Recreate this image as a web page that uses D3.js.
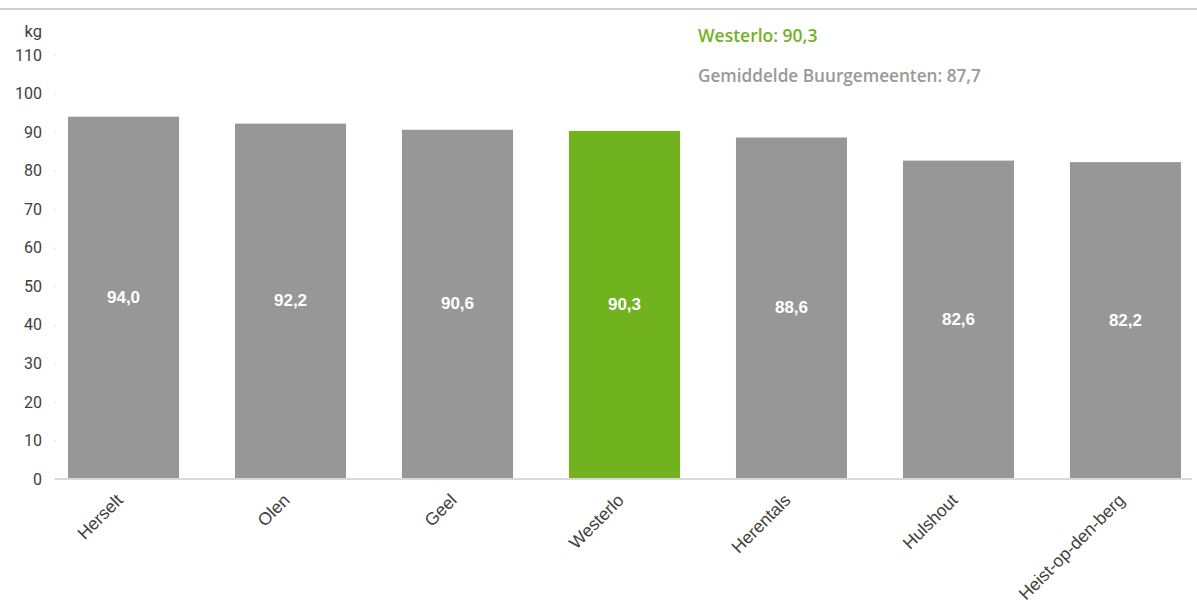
<!DOCTYPE html>
<html><head><meta charset="utf-8">
<script src="https://cdn.jsdelivr.net/npm/d3@7"></script>
<style>body{margin:0;background:#fff;}svg{display:block;}</style>
</head><body>
<script>
const categories = ["Herselt","Olen","Geel","Westerlo","Herentals","Hulshout","Heist-op-den-berg"];
const values = [94.0, 92.2, 90.6, 90.3, 88.6, 82.6, 82.2];
const highlight = "Westerlo";
const yTicks = [0,10,20,30,40,50,60,70,80,90,100,110];
const unitLabel = "kg";
const annotations = ["Westerlo: 90,3", "Gemiddelde Buurgemeenten: 87,7"];

const W = 1197, H = 605;
const svg = d3.select("body").append("svg").attr("width", W).attr("height", H);

// top border line
svg.append("line").attr("x1",0).attr("x2",W).attr("y1",9).attr("y2",9)
  .attr("stroke","#cfcfcf").attr("stroke-width",2);

const y = d3.scaleLinear().domain([0,110]).range([479,55]);
const x = d3.scaleBand().domain(categories).range([56,1193]).paddingInner(0.335).paddingOuter(0.072);

const fmt = v => v.toFixed(1).replace(".", ",");

// y axis
const yAxis = svg.append("g").attr("transform","translate(56,0)")
  .call(d3.axisLeft(y).tickValues(yTicks).tickSize(2).tickPadding(12));
yAxis.select(".domain").remove();
yAxis.selectAll(".tick line").attr("stroke","#e4e4e4");
yAxis.selectAll(".tick text").attr("fill","#404040").attr("font-family","Roboto, Arial, sans-serif").attr("font-size",16).attr("x",-14);

svg.append("text").attr("x",42).attr("y",37).attr("text-anchor","end")
  .attr("fill","#404040").attr("font-family","Roboto, Arial, sans-serif").attr("font-size",16.5).text(unitLabel);

// bars
svg.selectAll("rect.bar").data(categories).enter().append("rect").attr("class","bar")
  .attr("x", d => x(d)).attr("width", x.bandwidth())
  .attr("y", (d,i) => y(values[i])).attr("height", (d,i) => y(0) - y(values[i]))
  .attr("fill", d => d === highlight ? "#71b21f" : "#979797");

// value labels
svg.selectAll("text.val").data(categories).enter().append("text").attr("class","val")
  .attr("x", d => x(d) + x.bandwidth()/2)
  .attr("y", (d,i) => (y(values[i]) + y(0))/2 + 5)
  .attr("text-anchor","middle").attr("fill","#fff").attr("font-weight","bold")
  .attr("font-family","Liberation Sans, Arial, sans-serif").attr("font-size",17)
  .text((d,i) => fmt(values[i]));

// x axis
const xAxis = svg.append("g").attr("transform","translate(0,479)")
  .call(d3.axisBottom(x).tickSize(0).tickPadding(0));
xAxis.select(".domain").attr("stroke","#d9d9d9").attr("stroke-width",2)
  .attr("d", "M55,0H1192");
xAxis.selectAll(".tick text")
  .attr("text-anchor","end").attr("fill","#404040")
  .attr("font-family","Liberation Sans, Arial, sans-serif").attr("font-size",17.5)
  .attr("transform","translate(-4,18) rotate(-45)").attr("dy","0.35em").attr("y",0).attr("x",0);

// annotations
svg.append("text").attr("x",698).attr("y",42).attr("fill","#71b21f")
  .attr("font-family","Open Sans, sans-serif").attr("font-weight",600).attr("font-size",17.5).text(annotations[0]);
svg.append("text").attr("x",698).attr("y",82).attr("fill","#999999")
  .attr("font-family","Open Sans, sans-serif").attr("font-weight",600).attr("font-size",17.2).text(annotations[1]);
</script>
</body></html>
